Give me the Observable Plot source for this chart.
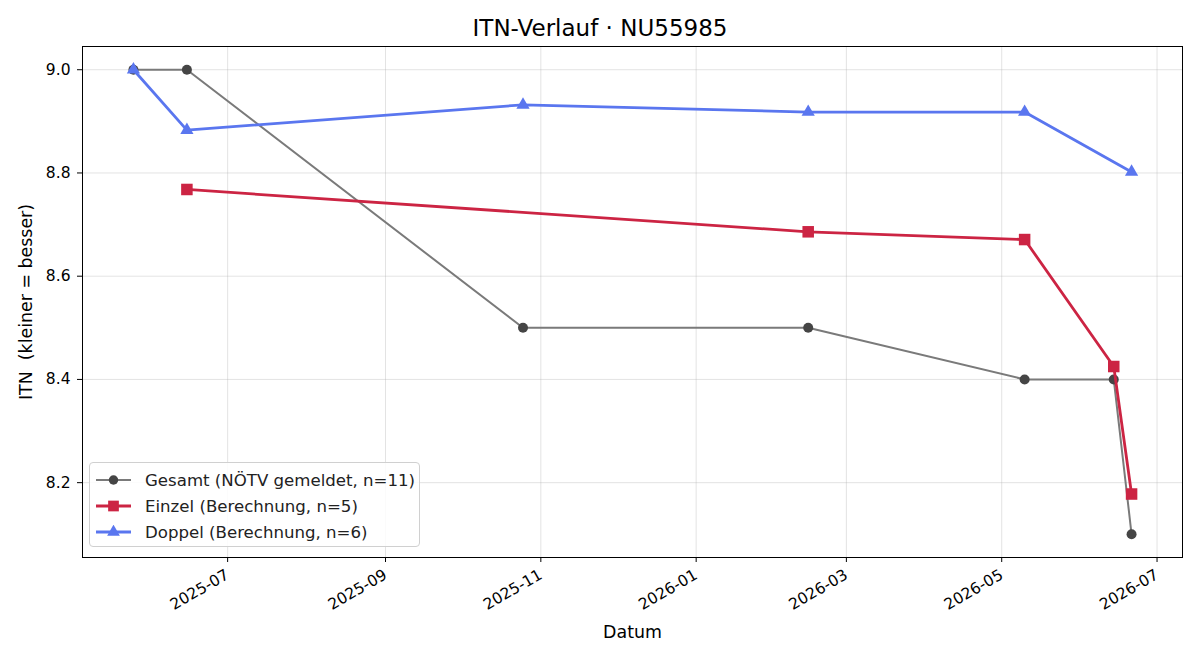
<!DOCTYPE html>
<html>
<head>
<meta charset="utf-8">
<script src="https://cdn.jsdelivr.net/npm/d3@7"></script>
<script src="https://cdn.jsdelivr.net/npm/@observablehq/plot@0.6"></script>
<style>
  html, body { margin: 0; padding: 0; background: #fff; }
  body { width: 1200px; height: 660px; position: relative; font-family: "DejaVu Sans", sans-serif; overflow: hidden; }
  #title { height: 40px; box-sizing: border-box; padding-top: 17px; line-height: 23px; text-align: center; font-size: 23px; color: #000; }
  #chart svg text.pre { white-space: pre; }
  #legend { position: absolute; left: 89px; top: 462px; width: 331px; height: 85px; border: 1px solid #d0d0d0; border-radius: 4px; background: rgba(255,255,255,0.85); box-sizing: border-box; }
  .item { position: absolute; left: 0; height: 26px; display: flex; align-items: center; font-size: 16.6px; color: #222; white-space: nowrap; }
  .item svg { margin-left: 5px; margin-right: 13px; }
</style>
</head>
<body>
<div id="title">ITN-Verlauf · NU55985</div>
<div id="chart"></div>
<div id="legend"></div>
<script>
// ---- data ----
const gesamtDates = ["2025-05-25","2025-06-15","2025-10-25","2026-02-14","2026-05-10","2026-06-14","2026-06-21"];
const gesamtITN   = [9.0, 9.0, 8.5, 8.5, 8.4, 8.4, 8.1];
const einzelDates = ["2025-06-15","2026-02-14","2026-05-10","2026-06-14","2026-06-21"];
const einzelITN   = [8.768, 8.686, 8.671, 8.425, 8.178];
const doppelDates = ["2025-05-25","2025-06-15","2025-10-25","2026-02-14","2026-05-10","2026-06-21"];
const doppelITN   = [9.0, 8.883, 8.932, 8.918, 8.918, 8.802];
const seriesNames = ["Gesamt (NÖTV gemeldet, n=11)", "Einzel (Berechnung, n=5)", "Doppel (Berechnung, n=6)"];
const yTicks = [8.2, 8.4, 8.6, 8.8, 9.0];
const xDomain = ["2025-05-05", "2026-07-11"];
const yDomain = [8.055, 9.045];

const parse = d3.utcParse("%Y-%m-%d");
const toRows = (dates, vals) => dates.map((d, i) => ({date: parse(d), itn: vals[i]}));
const gesamt = toRows(gesamtDates, gesamtITN);
const einzel = toRows(einzelDates, einzelITN);
const doppel = toRows(doppelDates, doppelITN);

const cGesLine = "#7a7a7a", cGesDot = "#454545";
const cEin = "#cc2443";
const cDop = "#5a76ef";

const xTicks = d3.utcMonth.every(2).range(parse(xDomain[0]), parse(xDomain[1]));

const plot = Plot.plot({
  width: 1200,
  height: 620,
  marginTop: 6,
  marginBottom: 103,
  marginLeft: 82,
  marginRight: 18,
  style: {fontFamily: "DejaVu Sans, sans-serif", fontSize: "15.5px", color: "#000", background: "#fff"},
  x: {type: "utc", domain: xDomain.map(parse)},
  y: {domain: yDomain},
  marks: [
    Plot.gridX(xTicks, {stroke: "#b0b0b0", strokeOpacity: 0.35}),
    Plot.gridY(yTicks, {stroke: "#b0b0b0", strokeOpacity: 0.35}),
    Plot.axisY(yTicks, {tickFormat: d3.format(".1f"), tickSize: 5, tickPadding: 7, fontSize: 15.5, label: null, stroke: "#000"}),
    Plot.axisX(xTicks, {tickFormat: d3.utcFormat("%Y-%m"), tickRotate: -30, tickSize: 5, tickPadding: 11, fontSize: 15.5, label: null, stroke: "#000"}),
    Plot.line(gesamt, {x: "date", y: "itn", stroke: cGesLine, strokeWidth: 2}),
    Plot.dot(gesamt, {x: "date", y: "itn", fill: cGesDot, r: 5, symbol: "circle"}),
    Plot.line(einzel, {x: "date", y: "itn", stroke: cEin, strokeWidth: 2.8}),
    Plot.dot(einzel, {x: "date", y: "itn", fill: cEin, r: 6.5, symbol: "square"}),
    Plot.line(doppel, {x: "date", y: "itn", stroke: cDop, strokeWidth: 2.8}),
    Plot.dot(doppel, {x: "date", y: "itn", fill: cDop, r: 4.9, symbol: "triangle"}),
    Plot.frame({stroke: "#000", strokeWidth: 1}),
    Plot.text(["Datum"], {frameAnchor: "bottom", dy: 80, fontSize: 17.4, fill: "#000"}),
    Plot.text(["ITN  (kleiner = besser)"], {frameAnchor: "left", dx: -56, rotate: -90, textAnchor: "middle", fontSize: 17.4, fill: "#000", className: "pre"})
  ]
});
document.getElementById("chart").appendChild(plot);

// legend
const legend = document.getElementById("legend");
const specs = [
  {color: cGesLine, dot: cGesDot, sym: d3.symbolCircle, size: 70, w: 2},
  {color: cEin, dot: cEin, sym: d3.symbolSquare, size: 115, w: 2.8},
  {color: cDop, dot: cDop, sym: d3.symbolTriangle, size: 70, w: 2.8}
];
seriesNames.forEach((name, i) => {
  const s = specs[i];
  const div = document.createElement("div");
  div.className = "item";
  div.style.top = (4 + i * 26) + "px";
  const sym = d3.symbol(s.sym, s.size)();
  div.innerHTML = `<svg width="37" height="14"><line x1="1" x2="36" y1="7" y2="7" stroke="${s.color}" stroke-width="${s.w}"/><path d="${sym}" transform="translate(18.5,7)" fill="${s.dot}"/></svg><span>${name}</span>`;
  legend.appendChild(div);
});
</script>
</body>
</html>
